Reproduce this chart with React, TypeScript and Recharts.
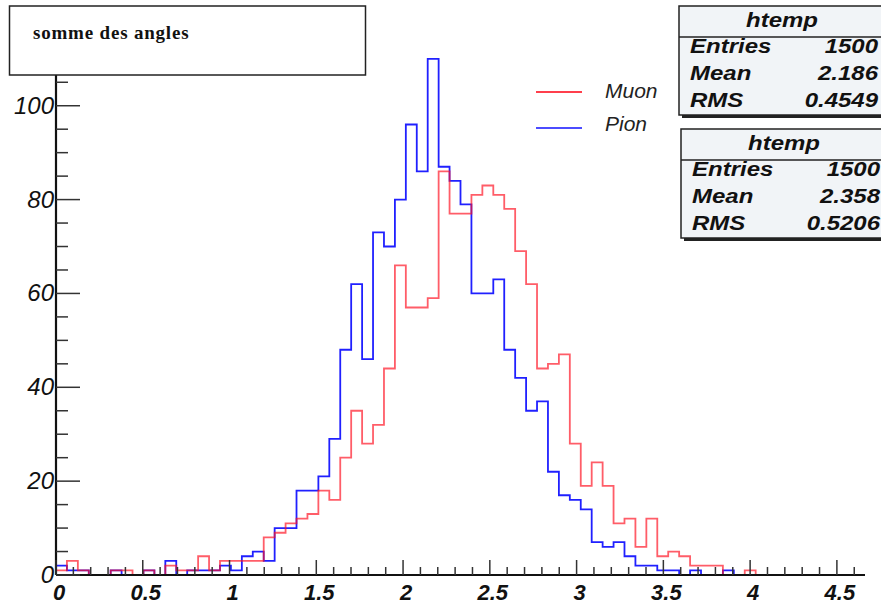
import { LineChart, Line, XAxis, YAxis, Legend } from "recharts";

const BIN_WIDTH = 0.063;
const X_MAX = 4.662;
const Y_MAX = 115.5;

// 74 bins starting at 0
const MUON_COUNTS = [
  1, 3, 1, 0, 0, 1, 1, 0, 1, 0,
  2, 1, 1, 4, 1, 3, 3, 3, 3, 8,
  9, 11, 12, 13, 18, 16, 25, 35, 28, 32,
  44, 66, 57, 57, 59, 86, 77, 77, 81, 83,
  81, 78, 69, 62, 44, 45, 47, 28, 19, 24,
  19, 11, 12, 6, 12, 4, 5, 4, 2, 2,
  2, 0, 0, 1, 0, 0, 0, 0, 0, 0,
  0, 0, 0, 0,
];

const PION_COUNTS = [
  2, 1, 1, 0, 0, 1, 0, 0, 1, 0,
  3, 0, 1, 1, 1, 2, 1, 4, 5, 3,
  10, 10, 18, 18, 21, 29, 48, 62, 46, 73,
  70, 80, 96, 86, 110, 87, 84, 79, 60, 60,
  63, 48, 42, 35, 37, 22, 17, 16, 14, 7,
  6, 7, 4, 2, 2, 1, 1, 0, 1, 0,
  0, 1, 0, 0, 0, 0, 0, 0, 0, 0,
  0, 0, 0, 0,
];

const X_TICKS = [
  0, 0.1, 0.2, 0.3, 0.4, 0.5, 0.6, 0.7, 0.8, 0.9,
  1, 1.1, 1.2, 1.3, 1.4, 1.5, 1.6, 1.7, 1.8, 1.9,
  2, 2.1, 2.2, 2.3, 2.4, 2.5, 2.6, 2.7, 2.8, 2.9,
  3, 3.1, 3.2, 3.3, 3.4, 3.5, 3.6, 3.7, 3.8, 3.9,
  4, 4.1, 4.2, 4.3, 4.4, 4.5, 4.6,
];
const Y_TICKS = [0, 5, 10, 15, 20, 25, 30, 35, 40, 45, 50, 55, 60, 65, 70, 75, 80, 85, 90, 95, 100, 105, 110, 115];

const LEGEND_ORDER = ["Muon", "Pion"];

const STATS = [
  { title: "htemp", entries: "1500", mean: "2.186", rms: "0.4549" },
  { title: "htemp", entries: "1500", mean: "2.358", rms: "0.5206" },
];

const rows = [];
for (let i = 0; i <= MUON_COUNTS.length; i++) {
  const k = Math.min(i, MUON_COUNTS.length - 1);
  rows.push({
    x: +(i * BIN_WIDTH).toFixed(4),
    muon: MUON_COUNTS[k],
    pion: PION_COUNTS[k],
  });
}

const FONT = "'Liberation Sans', Arial, sans-serif";

function YTick(props: any) {
  const { x, y, payload } = props;
  const v = payload.value;
  const major = v % 20 === 0;
  return (
    <g>
      <line x1={x} y1={y} x2={x + (major ? 24 : 12)} y2={y} stroke="#333" strokeWidth={1.5} />
      {major && (
        <text
          x={x - 2}
          y={y + 8}
          textAnchor="end"
          fontFamily={FONT}
          fontStyle="italic"
          fontSize={24}
          fill="#111"
        >
          {v}
        </text>
      )}
    </g>
  );
}

function XTick(props: any) {
  const { x, y, payload } = props;
  const v = payload.value;
  const major = Math.abs(v * 2 - Math.round(v * 2)) < 1e-6;
  return (
    <g>
      <line x1={x} y1={y} x2={x} y2={y - (major ? 15 : 8)} stroke="#333" strokeWidth={1.5} />
      {major && (
        <text
          x={x + 3}
          y={y + 25}
          textAnchor="middle"
          fontFamily={FONT}
          fontStyle="italic"
          fontWeight="bold"
          fontSize={22}
          fill="#111"
        >
          {+v.toFixed(1)}
        </text>
      )}
    </g>
  );
}

function LegendBox(props: any) {
  const items = [...(props.payload || [])].sort(
    (a: any, b: any) => LEGEND_ORDER.indexOf(a.value) - LEGEND_ORDER.indexOf(b.value)
  );
  return (
    <svg width={150} height={70}>
      {items.map((it: any, i: number) => (
        <g key={it.value}>
          <line x1={6} x2={52} y1={17 + i * 36} y2={17 + i * 36} stroke={it.color} strokeWidth={2} opacity={0.8} />
          <text x={75} y={23 + i * 33} fontFamily={FONT} fontStyle="italic" fontSize={21} fill="#222">
            {it.value}
          </text>
        </g>
      ))}
    </svg>
  );
}

function SText({ x, y, anchor, children }: any) {
  return (
    <text
      transform={`translate(${x},${y}) scale(1.2,1)`}
      textAnchor={anchor}
      fontFamily={FONT}
      fontStyle="italic"
      fontWeight="bold"
      fontSize={20}
      fill="#111"
    >
      {children}
    </text>
  );
}

function StatBox({ s, x, y }: any) {
  return (
    <g>
      <rect x={x + 3} y={y + 3} width={210} height={109} fill="#222" />
      <rect x={x} y={y} width={210} height={109} fill="#f1f4f7" stroke="#222" strokeWidth={1.5} />
      <line x1={x} x2={x + 210} y1={y + 31} y2={y + 31} stroke="#222" strokeWidth={1.5} />
      <SText x={x + 103} y={y + 21} anchor="middle">{s.title}</SText>
      <SText x={x + 11} y={y + 47} anchor="start">Entries</SText>
      <SText x={x + 199} y={y + 47} anchor="end">{s.entries}</SText>
      <SText x={x + 11} y={y + 74} anchor="start">Mean</SText>
      <SText x={x + 199} y={y + 74} anchor="end">{s.mean}</SText>
      <SText x={x + 11} y={y + 101} anchor="start">RMS</SText>
      <SText x={x + 199} y={y + 101} anchor="end">{s.rms}</SText>
    </g>
  );
}

export default function App() {
  return (
    <div style={{ position: "absolute", left: 0, top: 0, width: 881, height: 606, background: "#fff", overflow: "hidden" }}>
      <LineChart width={881} height={606} data={rows} margin={{ top: 33, right: 16, bottom: 0, left: 0 }}>
        <XAxis
          dataKey="x"
          type="number"
          domain={[0, X_MAX]}
          allowDataOverflow
          ticks={X_TICKS}
          interval={0}
          tickSize={0}
          tickMargin={0}
          height={31}
          tick={<XTick />}
          axisLine={{ stroke: "#111", strokeWidth: 2 }}
        />
        <XAxis xAxisId="top" orientation="top" type="number" domain={[0, X_MAX]} height={0} tick={false} tickLine={false} axisLine={{ stroke: "#333", strokeWidth: 1.5 }} />
        <YAxis
          type="number"
          domain={[0, Y_MAX]}
          allowDataOverflow
          ticks={Y_TICKS}
          interval={0}
          tickSize={0}
          tickMargin={0}
          width={56}
          tick={<YTick />}
          axisLine={{ stroke: "#111", strokeWidth: 2.2 }}
        />
        <YAxis yAxisId="right" orientation="right" width={0} tick={false} tickLine={false} axisLine={{ stroke: "#555", strokeWidth: 1.5 }} />
        <Legend
          verticalAlign="middle"
          align="center"
          content={<LegendBox />}
          wrapperStyle={{ position: "absolute", left: 530, top: 75, width: 150, height: 70 }}
        />
        <Line
          type="stepAfter"
          dataKey="pion"
          name="Pion"
          stroke="#2020ff"
          strokeWidth={1.8}
          dot={false}
          activeDot={false}
          isAnimationActive={false}
        />
        <Line
          type="stepAfter"
          dataKey="muon"
          name="Muon"
          stroke="#ff1020"
          strokeOpacity={0.68}
          strokeWidth={1.8}
          dot={false}
          activeDot={false}
          isAnimationActive={false}
        />
      </LineChart>
      <svg width={881} height={606} style={{ position: "absolute", left: 0, top: 0, pointerEvents: "none" }}>
        <rect x={9.5} y={6} width={356} height={69} fill="#fff" stroke="#222" strokeWidth={1.5} />
        <text x={33} y={39} fontFamily="'Liberation Serif', 'Times New Roman', serif" fontWeight="bold" fontSize={19} letterSpacing={0.8} fill="#111">
          somme des angles
        </text>
        <StatBox s={STATS[0]} x={679} y={6} />
        <StatBox s={STATS[1]} x={681} y={129} />
      </svg>
    </div>
  );
}
